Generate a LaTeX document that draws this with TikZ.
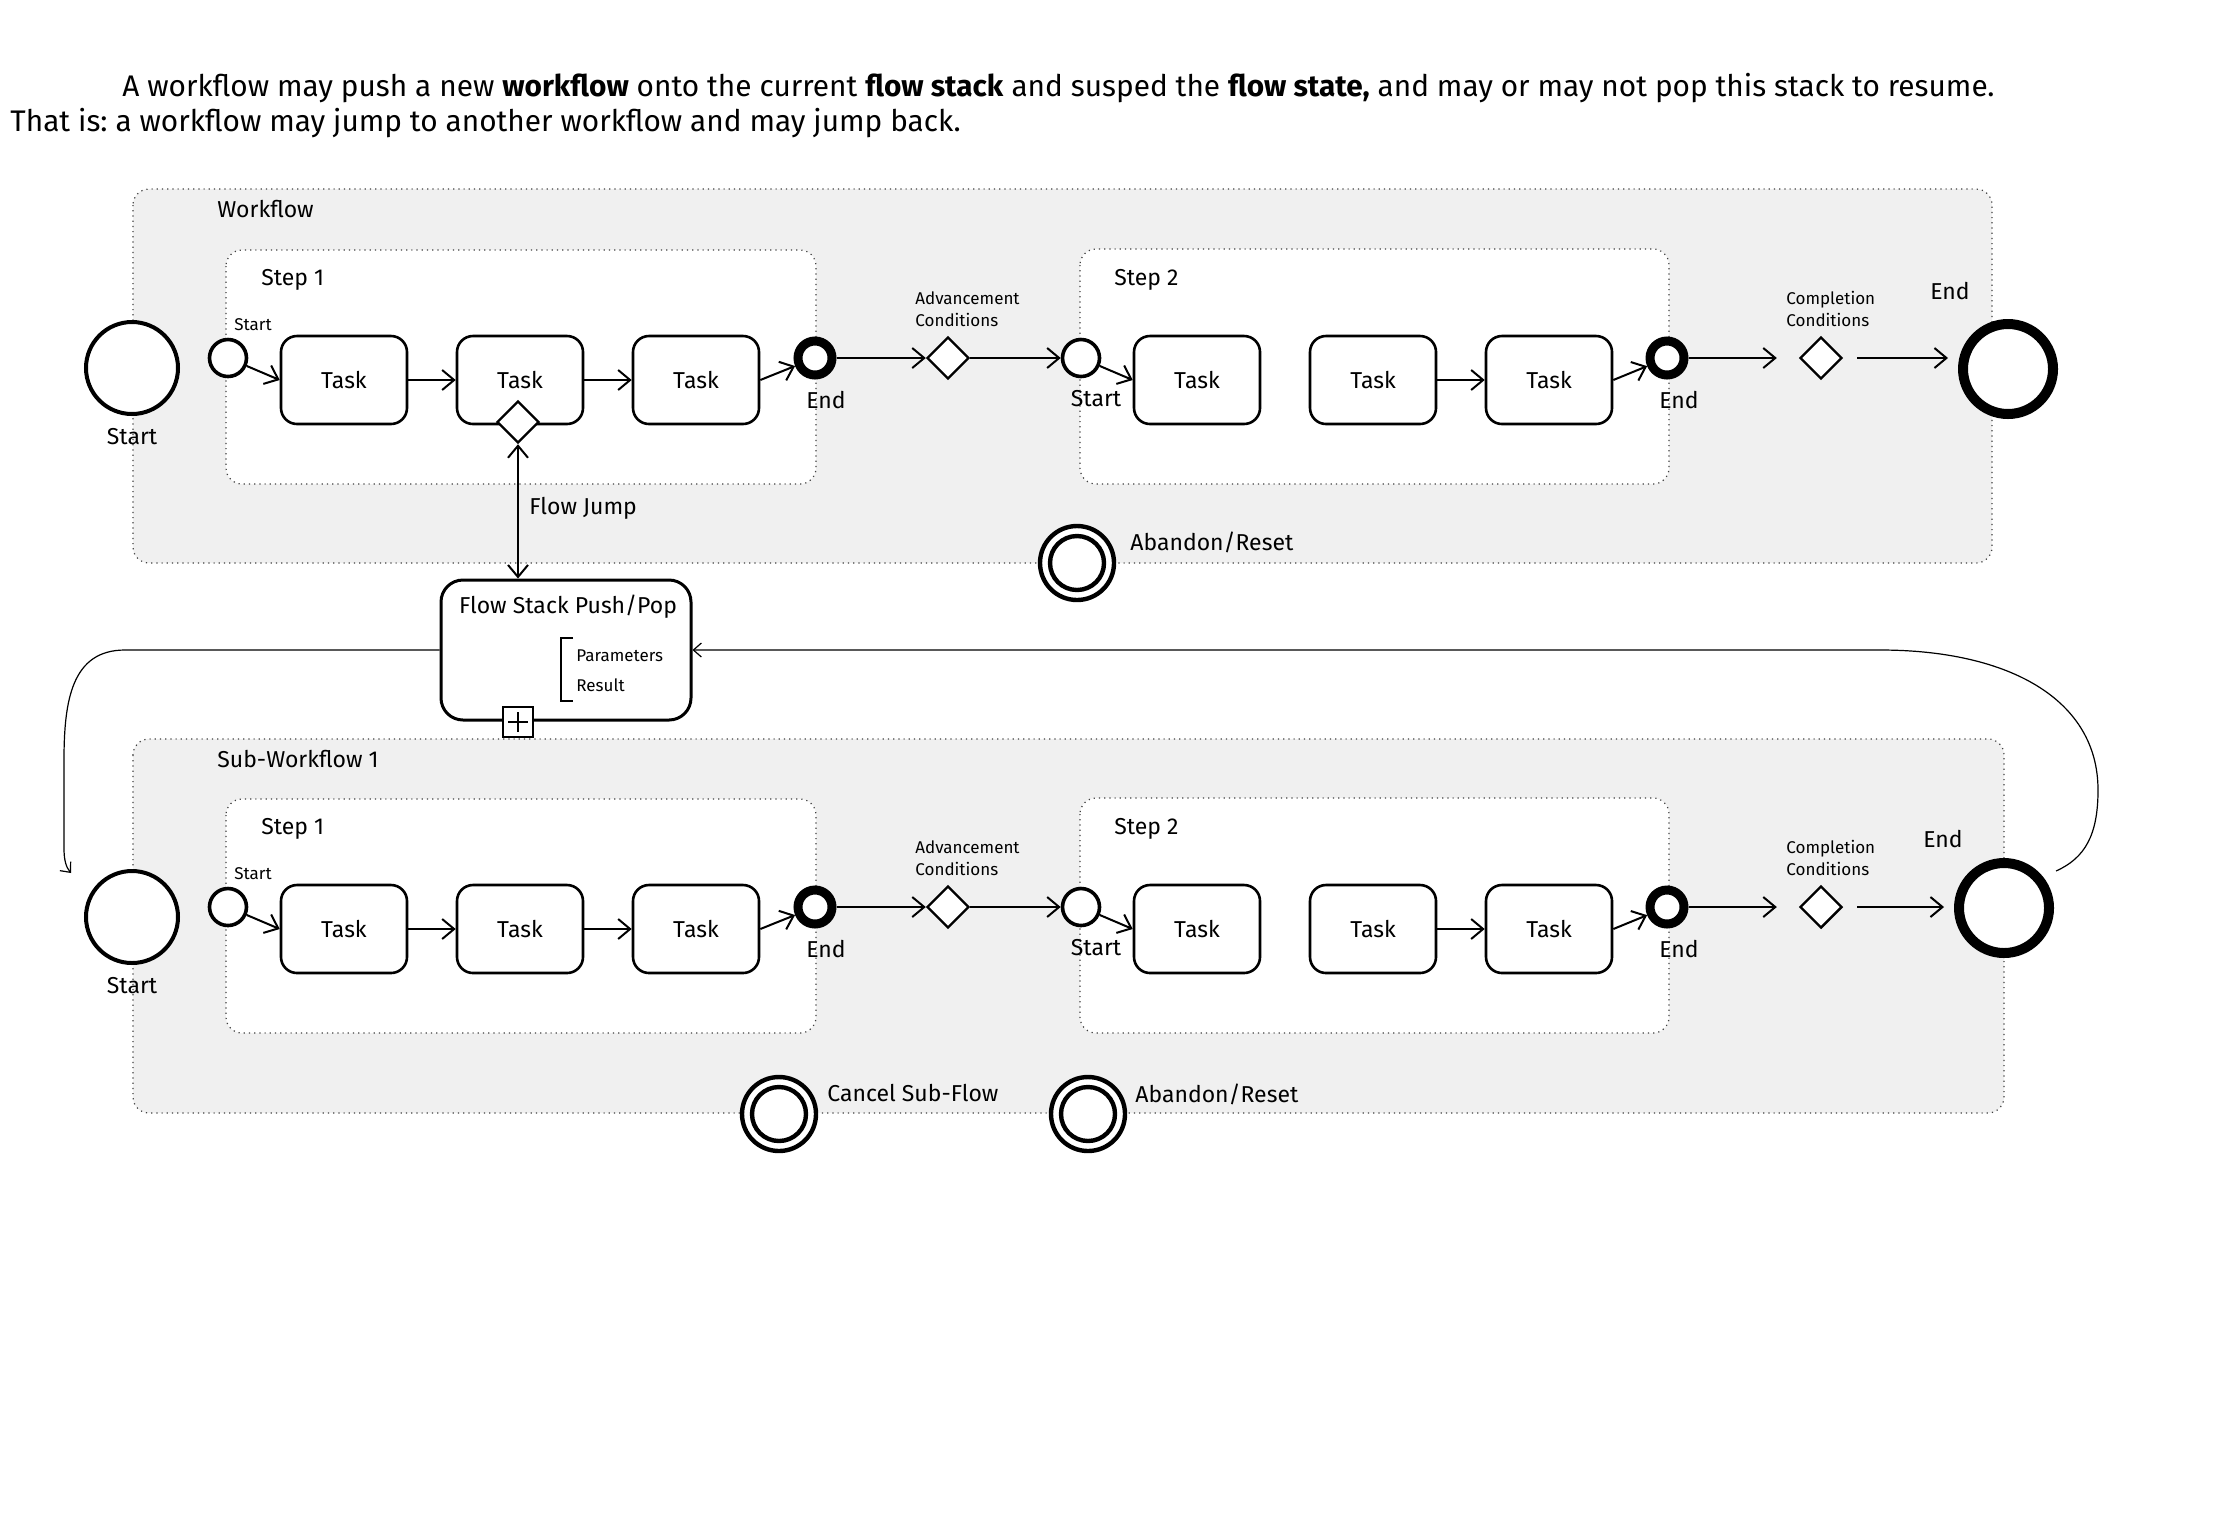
\documentclass[tikz,border=0pt]{standalone}
\usepackage{fontspec}
\setmainfont{Fira Sans}
\usetikzlibrary{arrows.meta,shapes.geometric}
\definecolor{bgray}{HTML}{F0F0F0}
\frenchspacing
\begin{document}
\begin{tikzpicture}[x=0.5pt,y=-0.5pt,
  lab/.style={font=\fontsize{11.5}{14}\selectfont, inner sep=0pt},
  small/.style={font=\fontsize{8.5}{11}\selectfont, inner sep=0pt},
  arr/.style={line width=1pt, -{Straight Barb[length=6pt,width=10pt]}},
  thinarr/.style={line width=0.6pt, -{Straight Barb[length=4pt,width=7pt]}},
  outerbox/.style={draw=black!75, dotted, line width=0.6pt, fill=bgray, rounded corners=8pt},
  stepbox/.style={draw=black!75, dotted, line width=0.6pt, fill=white, rounded corners=8pt},
  task/.style={draw, line width=1.3pt, rounded corners=8pt, minimum width=63pt, minimum height=44pt, fill=white, inner sep=0pt, font=\fontsize{11.5}{14}\selectfont},
  sstart/.style={circle, draw, line width=1.8pt, minimum size=18.5pt, inner sep=0pt, fill=white},
  send/.style={circle, draw, line width=4.5pt, minimum size=17pt, inner sep=0pt, fill=white},
  bigstart/.style={circle, draw, line width=2pt, minimum size=46pt, inner sep=0pt, fill=white},
  bigend/.style={circle, draw, line width=5pt, minimum size=45pt, inner sep=0pt, fill=white},
  gate/.style={diamond, aspect=1, draw, line width=1.2pt, minimum size=21pt, inner sep=0pt, fill=white},
  cancel/.style={circle, draw, line width=2.2pt, minimum size=37pt, inner sep=0pt, fill=white},
]
\useasboundingbox[fill=white] (0,0) rectangle (2225,1538);

% title
\node[anchor=west, inner sep=0pt, font=\fontsize{14.9}{18}\selectfont] (title1) at (122,88)
  {A workflow may push a new \textbf{workflow} onto the current \textbf{flow stack} and susped the \textbf{flow state,} and may or may not pop this stack to resume.};
\node[anchor=west, inner sep=0pt, font=\fontsize{14.9}{18}\selectfont] (title2) at (10,123)
  {That is: a workflow may jump to another workflow and may jump back.};

% outer boxes
\draw[outerbox] (133,189) rectangle (1992,563);
\draw[outerbox] (133,739) rectangle (2004,1113);
\node[lab, anchor=west] (wflab) at (217,209) {Workflow};
\node[lab, anchor=west] (swflab) at (217,759) {Sub-Workflow 1};

% rows
\foreach \r/\o in {a/0,b/549}{
  \draw[stepbox] (226,250+\o) rectangle (816,484+\o);
  \draw[stepbox] (1080,249+\o) rectangle (1669,484+\o);
  \node[lab, anchor=west] at (261,280+\o) {Step 1};
  \node[lab, anchor=west] at (1114,280+\o) {Step 2};
  \node[bigstart] (bs\r) at (132,368+\o) {};
  \node[lab] at (132,437+\o) {Start};
  \node[sstart] (ss1\r) at (228,358+\o) {};
  \node[small, anchor=west] at (234,325+\o) {Start};
  \node[task] (t1\r) at (344,380+\o) {Task};
  \node[task] (t2\r) at (520,380+\o) {Task};
  \node[task] (t3\r) at (696,380+\o) {Task};
  \node[send] (e1\r) at (815,358+\o) {};
  \node[lab] at (826,400+\o) {End};
  \node[gate] (g1\r) at (948,358+\o) {};
  \node[small, anchor=west, align=left] at (915,309+\o) {Advancement\\Conditions};
  \node[sstart] (ss2\r) at (1081,358+\o) {};
  \node[lab] at (1096,399+\o) {Start};
  \node[task] (t4\r) at (1197,380+\o) {Task};
  \node[task] (t5\r) at (1373,380+\o) {Task};
  \node[task] (t6\r) at (1549,380+\o) {Task};
  \node[send] (e2\r) at (1667,358+\o) {};
  \node[lab] at (1679,400+\o) {End};
  \node[gate] (g2\r) at (1821,358+\o) {};
  \node[small, anchor=west, align=left] at (1786,309+\o) {Completion\\Conditions};
  \draw[arr] (ss1\r) -- (t1\r.west);
  \draw[arr] (t1\r) -- (t2\r);
  \draw[arr] (t2\r) -- (t3\r);
  \draw[arr] (t3\r.east) -- (e1\r);
  \draw[arr] (e1\r) -- (g1\r);
  \draw[arr] (g1\r) -- (ss2\r);
  \draw[arr] (ss2\r) -- (t4\r.west);
  \draw[arr] (t5\r) -- (t6\r);
  \draw[arr] (t6\r.east) -- (e2\r);
  \draw[arr, shorten >=11pt] (e2\r) -- (g2\r);
}

% end events
\node[bigend] (bea) at (2008,369) {};
\node[lab] at (1950,291) {End};
\node[bigend] (beb) at (2004,908) {};
\node[lab] at (1943,839) {End};
\draw[arr, shorten <=7pt, shorten >=5pt] (g2a.east) -- (g2a.east -| bea.west);
\draw[arr, shorten <=7pt, shorten >=5pt] (g2b.east) -- (g2b.east -| beb.west);

% cancel / abandon events
\node[cancel] (ab1) at (1077,563) {};
\draw[line width=2.2pt] (ab1.center) circle[radius=13.5pt];
\node[lab, anchor=west] at (1130,542) {Abandon/Reset};
\node[cancel] (cs2) at (779,1114) {};
\draw[line width=2.2pt] (cs2.center) circle[radius=13.5pt];
\node[lab, anchor=west] at (827,1093) {Cancel Sub-Flow};
\node[cancel] (ab2) at (1088,1114) {};
\draw[line width=2.2pt] (ab2.center) circle[radius=13.5pt];
\node[lab, anchor=west] at (1135,1094) {Abandon/Reset};

% flow stack push/pop
\node[draw, line width=1.5pt, rounded corners=11pt, minimum width=125pt, minimum height=70pt, inner sep=0pt, fill=white] (fsp) at (566,650) {};
\node[lab] (fsptitle) at (568,607) {Flow Stack Push/Pop};
\draw[line width=1.2pt] (573,638) -- (561,638) -- (561,701) -- (573,701);
\node[small, anchor=west] (par) at (576,656) {Parameters};
\node[small, anchor=west] (res) at (576,685) {Result};
\node[draw, line width=0.9pt, fill=white, minimum size=15pt, inner sep=0pt] (plus) at (518,722) {};
\draw[line width=0.7pt] ([xshift=-5pt]plus.center) -- ([xshift=5pt]plus.center);
\draw[line width=0.7pt] ([yshift=-5pt]plus.center) -- ([yshift=5pt]plus.center);

% flow jump
\node[gate] (dj) at (518,422) {};
\draw[line width=1pt, {Straight Barb[length=6pt,width=10pt]}-{Straight Barb[length=6pt,width=10pt]}] (dj.south) -- (dj.south |- fsp.north);
\node[lab, anchor=west] (fj) at (529,508) {Flow Jump};

% loops
\coordinate (lin) at (71,873);
\draw[thinarr] (fsp.west) -- (125,650) .. controls (72,650) and (64,700) .. (64,760) -- (64,848) .. controls (64,860) and (66,867) .. (lin);
\coordinate (rout) at (2056,871);
\draw[thinarr] (rout) .. controls (2085,858) and (2098,835) .. (2098,790) .. controls (2098,700) and (2010,650) .. (1880,650) -- (fsp.east);
\end{tikzpicture}
\end{document}
